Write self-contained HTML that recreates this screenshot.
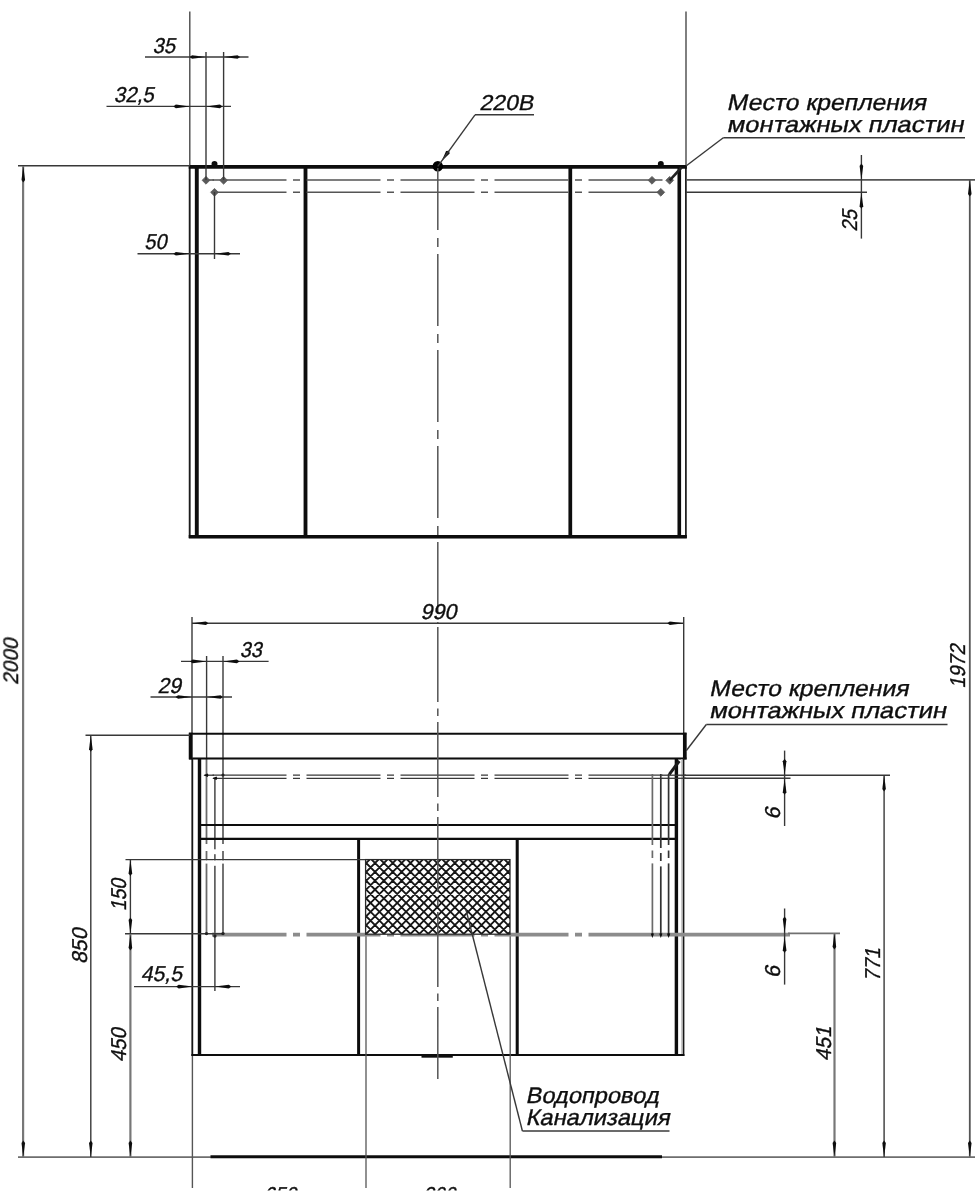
<!DOCTYPE html>
<html><head><meta charset="utf-8"><title>drawing</title>
<style>
html,body{margin:0;padding:0;background:#fff;}
svg{display:block}
text{font-family:"Liberation Sans",sans-serif;fill:#0d0d0d;stroke:#0d0d0d;stroke-width:0.35px;}
</style></head><body>
<svg width="980" height="1200" viewBox="0 0 980 1200">
<defs>
<filter id="soft" x="0" y="0" width="980" height="1200" filterUnits="userSpaceOnUse"><feGaussianBlur stdDeviation="0.45"/></filter>
<pattern id="hatch" patternUnits="userSpaceOnUse" width="8.87" height="8.87" x="370.6" y="858.6">
<rect width="8.87" height="8.87" fill="#fff"/>
<path d="M-1,-1 L9.87,9.87 M-1,7.87 L1,9.87 M7.87,-1 L9.87,1 M-1,9.87 L9.87,-1 M-1,1 L1,-1 M7.87,9.87 L9.87,7.87" stroke="#1a1a1a" stroke-width="1.75" fill="none"/>
</pattern>
</defs>
<rect width="980" height="1200" fill="#fff"/>
<g filter="url(#soft)">
<line x1="189.8" y1="11.5" x2="189.8" y2="166" stroke="#4a4a4a" stroke-width="1.4" />
<line x1="189.7" y1="166" x2="189.7" y2="538" stroke="#1a1a1a" stroke-width="1.9" />
<line x1="686" y1="11.5" x2="686" y2="166" stroke="#4a4a4a" stroke-width="1.4" />
<line x1="685.9" y1="166" x2="685.9" y2="538" stroke="#1a1a1a" stroke-width="1.7" />
<line x1="188.8" y1="166.9" x2="686.8" y2="166.9" stroke="#0a0a0a" stroke-width="3.6" />
<line x1="188.8" y1="536.7" x2="686.8" y2="536.7" stroke="#0a0a0a" stroke-width="3.4" />
<line x1="196.8" y1="166" x2="196.8" y2="537" stroke="#0a0a0a" stroke-width="3.9" />
<line x1="305.5" y1="166" x2="305.5" y2="537" stroke="#0a0a0a" stroke-width="3.8" />
<line x1="570.3" y1="166" x2="570.3" y2="537" stroke="#0a0a0a" stroke-width="3.7" />
<line x1="679.3" y1="166" x2="679.3" y2="537" stroke="#0a0a0a" stroke-width="3.6" />
<line x1="18" y1="165.8" x2="190" y2="165.8" stroke="#383838" stroke-width="1.4" />
<path d="M212.5,180 H286.5 M293.0,180 H300.0 M306.5,180 H380.5 M387.0,180 H394.0 M400.5,180 H474.5 M481.0,180 H488.0 M494.5,180 H568.5 M575.0,180 H582.0 M588.5,180 H662.5 M669.0,180 H669.7" stroke="#555" stroke-width="1.6" fill="none"/>
<line x1="206" y1="180" x2="214" y2="180" stroke="#555" stroke-width="1.6" />
<path d="M214.5,192.3 H286.5 M293.0,192.3 H300.0 M306.5,192.3 H380.5 M387.0,192.3 H394.0 M400.5,192.3 H474.5 M481.0,192.3 H488.0 M494.5,192.3 H568.5 M575.0,192.3 H582.0 M588.5,192.3 H660.8" stroke="#555" stroke-width="1.6" fill="none"/>
<line x1="686" y1="179.9" x2="975" y2="179.9" stroke="#555" stroke-width="1.7" />
<line x1="686" y1="192.3" x2="867" y2="192.3" stroke="#383838" stroke-width="1.4" />
<polygon points="202.1,180.3 206,176.4 209.9,180.3 206,184.20000000000002" fill="#5a5a5a" stroke="#5a5a5a" stroke-width="0.8" stroke-linejoin="round"/>
<polygon points="219.7,180.3 223.6,176.4 227.5,180.3 223.6,184.20000000000002" fill="#5a5a5a" stroke="#5a5a5a" stroke-width="0.8" stroke-linejoin="round"/>
<polygon points="210.6,192.3 214.5,188.4 218.4,192.3 214.5,196.20000000000002" fill="#5a5a5a" stroke="#5a5a5a" stroke-width="0.8" stroke-linejoin="round"/>
<polygon points="648.1,180.3 652,176.4 655.9,180.3 652,184.20000000000002" fill="#5a5a5a" stroke="#5a5a5a" stroke-width="0.8" stroke-linejoin="round"/>
<polygon points="665.8000000000001,180.3 669.7,176.4 673.6,180.3 669.7,184.20000000000002" fill="#5a5a5a" stroke="#5a5a5a" stroke-width="0.8" stroke-linejoin="round"/>
<polygon points="656.9,192.3 660.8,188.4 664.6999999999999,192.3 660.8,196.20000000000002" fill="#5a5a5a" stroke="#5a5a5a" stroke-width="0.8" stroke-linejoin="round"/>
<path d="M211.6,165.2 V163.6 A2.9,2.6 0 0 1 217.4,163.6 V165.2 Z" fill="#0a0a0a"/>
<path d="M657.9,165.2 V163.6 A2.9,2.6 0 0 1 663.7,163.6 V165.2 Z" fill="#0a0a0a"/>
<line x1="206" y1="52" x2="206" y2="180" stroke="#383838" stroke-width="1.4" />
<line x1="223.6" y1="52" x2="223.6" y2="180" stroke="#383838" stroke-width="1.4" />
<line x1="214.5" y1="192" x2="214.5" y2="259" stroke="#383838" stroke-width="1.4" />
<line x1="145" y1="57" x2="248.5" y2="57" stroke="#383838" stroke-width="1.4" />
<polygon points="206.0,57.0 192.1,58.8 189.5,57.0 192.1,55.2" fill="#111"/>
<polygon points="223.6,57.0 237.5,55.2 240.1,57.0 237.5,58.8" fill="#111"/>
<line x1="106.5" y1="106.4" x2="231" y2="106.4" stroke="#383838" stroke-width="1.4" />
<polygon points="189.8,106.4 175.9,108.2 173.3,106.4 175.9,104.6" fill="#111"/>
<polygon points="206.0,106.4 219.9,104.6 222.5,106.4 219.9,108.2" fill="#111"/>
<line x1="137.5" y1="253.7" x2="240" y2="253.7" stroke="#383838" stroke-width="1.4" />
<polygon points="189.8,253.7 175.9,255.5 173.3,253.7 175.9,251.9" fill="#111"/>
<polygon points="214.5,253.7 228.4,251.9 231.0,253.7 228.4,255.5" fill="#111"/>
<circle cx="437.8" cy="166.3" r="5.2" fill="#000"/>
<line x1="475" y1="114.8" x2="534" y2="114.8" stroke="#383838" stroke-width="1.4" />
<polygon points="441.5,161.2 446.1,151.1 449.1,150.7 449.7,153.6" fill="#111"/>
<line x1="686" y1="166" x2="723.3" y2="137.8" stroke="#383838" stroke-width="1.4" />
<line x1="723.3" y1="137.8" x2="965" y2="137.8" stroke="#383838" stroke-width="1.4" />
<line x1="669.7" y1="180.3" x2="681.5" y2="167.5" stroke="#222" stroke-width="2.6" />
<line x1="861.4" y1="155" x2="861.4" y2="238.6" stroke="#383838" stroke-width="1.4" />
<polygon points="861.4,180.0 859.6,166.1 861.4,163.5 863.2,166.1" fill="#111"/>
<polygon points="861.4,192.3 863.2,206.2 861.4,208.8 859.6,206.2" fill="#111"/>
<line x1="969.8" y1="180" x2="969.8" y2="1157" stroke="#555" stroke-width="1.8" />
<polygon points="969.8,180.0 971.6,193.9 969.8,196.5 968.0,193.9" fill="#111"/>
<polygon points="969.8,1157.0 968.0,1143.1 969.8,1140.5 971.6,1143.1" fill="#111"/>
<line x1="23.1" y1="166" x2="23.1" y2="1157" stroke="#777" stroke-width="2.2" />
<polygon points="23.3,166.0 25.1,179.9 23.3,182.5 21.5,179.9" fill="#111"/>
<polygon points="23.3,1157.0 21.5,1143.1 23.3,1140.5 25.1,1143.1" fill="#111"/>
<line x1="18" y1="1157.1" x2="975" y2="1157.1" stroke="#6e6e6e" stroke-width="1.9" />
<line x1="210.5" y1="1156.8" x2="662" y2="1156.8" stroke="#111" stroke-width="3" />
<line x1="192" y1="623.2" x2="683.7" y2="623.2" stroke="#383838" stroke-width="1.4" />
<line x1="192" y1="617" x2="192" y2="734" stroke="#383838" stroke-width="1.4" />
<line x1="683.7" y1="617" x2="683.7" y2="734" stroke="#383838" stroke-width="1.4" />
<polygon points="192.0,623.2 205.9,621.4 208.5,623.2 205.9,625.0" fill="#111"/>
<polygon points="683.7,623.2 669.8,625.0 667.2,623.2 669.8,621.4" fill="#111"/>
<line x1="181" y1="661.4" x2="268.6" y2="661.4" stroke="#383838" stroke-width="1.4" />
<polygon points="206.6,661.4 192.7,663.2 190.1,661.4 192.7,659.6" fill="#111"/>
<polygon points="223.0,661.4 236.9,659.6 239.5,661.4 236.9,663.2" fill="#111"/>
<line x1="150.5" y1="697" x2="232" y2="697" stroke="#383838" stroke-width="1.4" />
<polygon points="192.0,697.0 178.1,698.8 175.5,697.0 178.1,695.2" fill="#111"/>
<polygon points="206.6,697.0 220.5,695.2 223.1,697.0 220.5,698.8" fill="#111"/>
<line x1="206.6" y1="656" x2="206.6" y2="759" stroke="#383838" stroke-width="1.4" />
<line x1="206.5" y1="759" x2="206.5" y2="934" stroke="#6a6a6a" stroke-width="1.8" />
<line x1="223" y1="656" x2="223" y2="934" stroke="#383838" stroke-width="1.4" />
<line x1="214.9" y1="778" x2="214.9" y2="991" stroke="#383838" stroke-width="1.4" />
<line x1="189" y1="733.7" x2="686.5" y2="733.7" stroke="#0a0a0a" stroke-width="2.1" />
<line x1="189" y1="758.4" x2="686.5" y2="758.4" stroke="#0a0a0a" stroke-width="2" />
<line x1="190.7" y1="732.7" x2="190.7" y2="759.4" stroke="#0a0a0a" stroke-width="3.9" />
<line x1="684.8" y1="732.7" x2="684.8" y2="759.4" stroke="#0a0a0a" stroke-width="3.7" />
<line x1="192.3" y1="758" x2="192.3" y2="1056" stroke="#151515" stroke-width="1.8" />
<line x1="192.4" y1="1056" x2="192.4" y2="1188" stroke="#555" stroke-width="1.4" />
<line x1="199.5" y1="758" x2="199.5" y2="1056" stroke="#0a0a0a" stroke-width="3.4" />
<line x1="676.4" y1="758" x2="676.4" y2="1056" stroke="#0a0a0a" stroke-width="3.4" />
<line x1="681.9" y1="759" x2="681.9" y2="1055" stroke="#bbb" stroke-width="1.4" />
<line x1="683.6" y1="758" x2="683.6" y2="1056" stroke="#151515" stroke-width="1.6" />
<line x1="191.4" y1="1055.1" x2="684.4" y2="1055.1" stroke="#0a0a0a" stroke-width="2" />
<line x1="198.5" y1="825" x2="678" y2="825" stroke="#111" stroke-width="2.2" />
<line x1="198.5" y1="838.9" x2="678" y2="838.9" stroke="#111" stroke-width="2.2" />
<line x1="358.6" y1="838" x2="358.6" y2="1056" stroke="#0a0a0a" stroke-width="3.0" />
<line x1="517.2" y1="838" x2="517.2" y2="1056" stroke="#0a0a0a" stroke-width="3.0" />
<line x1="366" y1="934" x2="366" y2="1188" stroke="#555" stroke-width="1.3" />
<line x1="510.2" y1="934" x2="510.2" y2="1188" stroke="#555" stroke-width="1.3" />
<line x1="421.5" y1="1056.4" x2="452.8" y2="1056.4" stroke="#0a0a0a" stroke-width="2.5" />
<path d="M212.5,775.2 H286.5 M293.0,775.2 H300.0 M306.5,775.2 H380.5 M387.0,775.2 H394.0 M400.5,775.2 H474.5 M481.0,775.2 H488.0 M494.5,775.2 H568.5 M575.0,775.2 H582.0 M588.5,775.2 H662.5" stroke="#383838" stroke-width="1.3" fill="none"/>
<line x1="204.4" y1="775.2" x2="214" y2="775.2" stroke="#383838" stroke-width="1.3" />
<line x1="662" y1="775.2" x2="686" y2="775.2" stroke="#383838" stroke-width="1.3" />
<path d="M213.0,778.3 H286.5 M293.0,778.3 H300.0 M306.5,778.3 H380.5 M387.0,778.3 H394.0 M400.5,778.3 H474.5 M481.0,778.3 H488.0 M494.5,778.3 H568.5 M575.0,778.3 H582.0 M588.5,778.3 H662.5" stroke="#383838" stroke-width="1.3" fill="none"/>
<line x1="662" y1="778.3" x2="686" y2="778.3" stroke="#383838" stroke-width="1.3" />
<polygon points="203.5,775.2 207.7,773.5 208.5,775.2 207.7,776.9" fill="#111"/>
<polygon points="212.3,778.3 216.5,776.6 217.3,778.3 216.5,780.0" fill="#111"/>
<circle cx="223" cy="775" r="1.6" fill="#222"/>
<line x1="684" y1="775.2" x2="890" y2="775.2" stroke="#383838" stroke-width="1.4" />
<line x1="684" y1="778.3" x2="790.5" y2="778.3" stroke="#383838" stroke-width="1.4" />
<path d="M212.5,934.7 H286.5 M293.0,934.7 H300.0 M306.5,934.7 H380.5 M387.0,934.7 H394.0 M400.5,934.7 H474.5 M481.0,934.7 H488.0 M494.5,934.7 H568.5 M575.0,934.7 H582.0 M588.5,934.7 H662.5" stroke="#8c8c8c" stroke-width="3.7" fill="none"/>
<line x1="212" y1="934.7" x2="214" y2="934.7" stroke="#8c8c8c" stroke-width="3.7" />
<line x1="662" y1="934.7" x2="790" y2="934.7" stroke="#8c8c8c" stroke-width="3.7" />
<line x1="788" y1="933.4" x2="840" y2="933.4" stroke="#707070" stroke-width="1.8" />
<line x1="125" y1="933.8" x2="224" y2="933.8" stroke="#383838" stroke-width="1.4" />
<circle cx="206.5" cy="933.6" r="1.7" fill="#222"/>
<circle cx="214.9" cy="936" r="1.7" fill="#222"/>
<circle cx="223" cy="933.6" r="1.7" fill="#222"/>
<line x1="125.5" y1="859.6" x2="366" y2="859.6" stroke="#383838" stroke-width="1.4" />
<clipPath id="hc"><rect x="365.6" y="859.6" width="144.39999999999998" height="74.60000000000002"/></clipPath>
<rect x="365.6" y="859.6" width="144.39999999999998" height="74.60000000000002" fill="#fff"/>
<path clip-path="url(#hc)" d="M291.77,859.6 L366.37,934.2 M300.64,859.6 L375.24,934.2 M309.51,859.6 L384.11,934.2 M318.38,859.6 L392.98,934.2 M327.25,859.6 L401.85,934.2 M336.12,859.6 L410.72,934.2 M344.99,859.6 L419.59,934.2 M353.86,859.6 L428.46,934.2 M362.73,859.6 L437.33,934.2 M371.60,859.6 L446.20,934.2 M380.47,859.6 L455.07,934.2 M389.34,859.6 L463.94,934.2 M398.21,859.6 L472.81,934.2 M407.08,859.6 L481.68,934.2 M415.95,859.6 L490.55,934.2 M424.82,859.6 L499.42,934.2 M433.69,859.6 L508.29,934.2 M442.56,859.6 L517.16,934.2 M451.43,859.6 L526.03,934.2 M460.30,859.6 L534.90,934.2 M469.17,859.6 L543.77,934.2 M478.04,859.6 L552.64,934.2 M486.91,859.6 L561.51,934.2 M495.78,859.6 L570.38,934.2 M504.65,859.6 L579.25,934.2 M369.60,859.6 L295.00,934.2 M378.47,859.6 L303.87,934.2 M387.34,859.6 L312.74,934.2 M396.21,859.6 L321.61,934.2 M405.08,859.6 L330.48,934.2 M413.95,859.6 L339.35,934.2 M422.82,859.6 L348.22,934.2 M431.69,859.6 L357.09,934.2 M440.56,859.6 L365.96,934.2 M449.43,859.6 L374.83,934.2 M458.30,859.6 L383.70,934.2 M467.17,859.6 L392.57,934.2 M476.04,859.6 L401.44,934.2 M484.91,859.6 L410.31,934.2 M493.78,859.6 L419.18,934.2 M502.65,859.6 L428.05,934.2 M511.52,859.6 L436.92,934.2 M520.39,859.6 L445.79,934.2 M529.26,859.6 L454.66,934.2 M538.13,859.6 L463.53,934.2 M547.00,859.6 L472.40,934.2 M555.87,859.6 L481.27,934.2 M564.74,859.6 L490.14,934.2 M573.61,859.6 L499.01,934.2 M582.48,859.6 L507.88,934.2" stroke="#161616" stroke-width="1.85" fill="none"/>
<rect x="365.6" y="859.6" width="144.39999999999998" height="74.60000000000002" fill="none" stroke="#2a2a2a" stroke-width="1.3"/>
<line x1="437.8" y1="166.3" x2="475" y2="114.8" stroke="#383838" stroke-width="1.4" />
<line x1="437.8" y1="168" x2="437.8" y2="623" stroke="#555" stroke-width="1.5" stroke-dasharray="72 8 9 7" stroke-dashoffset="10"/>
<line x1="437.8" y1="627" x2="437.8" y2="1079" stroke="#555" stroke-width="1.5" stroke-dasharray="75 6.5 7.5 6"/>
<line x1="652.4" y1="774" x2="652.4" y2="936" stroke="#6a6a6a" stroke-width="1.7" />
<polygon points="652.4,938.0 650.8,933.8 652.4,933.0 654.0,933.8" fill="#111"/>
<line x1="660.8" y1="774" x2="660.8" y2="936" stroke="#333" stroke-width="1.7" />
<polygon points="660.8,938.0 659.2,933.8 660.8,933.0 662.4,933.8" fill="#111"/>
<line x1="668.6" y1="774" x2="668.6" y2="936" stroke="#333" stroke-width="1.7" />
<polygon points="668.6,938.0 667.0,933.8 668.6,933.0 670.2,933.8" fill="#111"/>
<rect x="205.0" y="844" width="3.2" height="7" fill="#fff"/>
<rect x="205.0" y="860.5" width="3.2" height="3.1000000000000227" fill="#fff"/>
<rect x="221.4" y="844" width="3.2" height="7" fill="#fff"/>
<rect x="221.4" y="860.5" width="3.2" height="3.1000000000000227" fill="#fff"/>
<rect x="213.3" y="849.3" width="3.2" height="4.900000000000091" fill="#fff"/>
<rect x="213.3" y="860.5" width="3.2" height="5.2999999999999545" fill="#fff"/>
<rect x="650.8" y="845" width="3.2" height="5.5" fill="#fff"/>
<rect x="650.8" y="858" width="3.2" height="5.399999999999977" fill="#fff"/>
<rect x="667.0" y="845" width="3.2" height="5.5" fill="#fff"/>
<rect x="667.0" y="858" width="3.2" height="5.399999999999977" fill="#fff"/>
<rect x="659.1999999999999" y="848" width="3.2" height="5" fill="#fff"/>
<rect x="659.1999999999999" y="861" width="3.2" height="5.399999999999977" fill="#fff"/>
<line x1="706.3" y1="724.5" x2="686.2" y2="750.8" stroke="#383838" stroke-width="1.4" />
<line x1="706.3" y1="724.5" x2="947.5" y2="724.5" stroke="#383838" stroke-width="1.4" />
<line x1="679.3" y1="761" x2="669.3" y2="774.3" stroke="#1a1a1a" stroke-width="3" />
<line x1="85.5" y1="735.3" x2="190" y2="735.3" stroke="#383838" stroke-width="1.4" />
<line x1="90.8" y1="735" x2="90.8" y2="1157" stroke="#383838" stroke-width="1.4" />
<polygon points="90.8,735.3 92.6,749.2 90.8,751.8 89.0,749.2" fill="#111"/>
<polygon points="90.8,1157.0 89.0,1143.1 90.8,1140.5 92.6,1143.1" fill="#111"/>
<line x1="130.4" y1="859.6" x2="130.4" y2="934" stroke="#383838" stroke-width="1.4" />
<line x1="130.4" y1="934" x2="130.4" y2="1157" stroke="#777" stroke-width="2.2" />
<polygon points="130.4,859.6 132.2,873.5 130.4,876.1 128.6,873.5" fill="#111"/>
<polygon points="130.4,934.0 128.6,920.1 130.4,917.5 132.2,920.1" fill="#111"/>
<polygon points="130.4,934.0 132.2,947.9 130.4,950.5 128.6,947.9" fill="#111"/>
<polygon points="130.4,1157.0 128.6,1143.1 130.4,1140.5 132.2,1143.1" fill="#111"/>
<line x1="134" y1="986.6" x2="240" y2="986.6" stroke="#383838" stroke-width="1.4" />
<polygon points="192.6,986.6 178.7,988.4 176.1,986.6 178.7,984.8" fill="#111"/>
<polygon points="214.9,986.6 228.8,984.8 231.4,986.6 228.8,988.4" fill="#111"/>
<line x1="784.6" y1="750.6" x2="784.6" y2="826" stroke="#383838" stroke-width="1.4" />
<polygon points="784.6,775.2 782.8,761.3 784.6,758.7 786.4,761.3" fill="#111"/>
<polygon points="784.6,778.3 786.4,792.2 784.6,794.8 782.8,792.2" fill="#111"/>
<line x1="784.6" y1="908.5" x2="784.6" y2="984.6" stroke="#383838" stroke-width="1.4" />
<polygon points="784.6,933.0 782.8,919.1 784.6,916.5 786.4,919.1" fill="#111"/>
<polygon points="784.6,936.4 786.4,950.3 784.6,952.9 782.8,950.3" fill="#111"/>
<line x1="834.5" y1="933" x2="834.5" y2="1157" stroke="#777" stroke-width="2.2" />
<polygon points="834.4,933.0 836.2,946.9 834.4,949.5 832.6,946.9" fill="#111"/>
<polygon points="834.4,1157.0 832.6,1143.1 834.4,1140.5 836.2,1143.1" fill="#111"/>
<line x1="884.1" y1="775" x2="884.1" y2="1157" stroke="#383838" stroke-width="1.4" />
<polygon points="884.1,775.0 885.9,788.9 884.1,791.5 882.3,788.9" fill="#111"/>
<polygon points="884.1,1157.0 882.3,1143.1 884.1,1140.5 885.9,1143.1" fill="#111"/>
<line x1="465.8" y1="909" x2="522.4" y2="1131" stroke="#383838" stroke-width="1.4" />
<line x1="522.4" y1="1131" x2="669.5" y2="1131" stroke="#383838" stroke-width="1.4" />
<text transform="translate(152.6 52.7) skewX(-12)" font-size="21.5" textLength="22.5" lengthAdjust="spacingAndGlyphs">35</text>
<text transform="translate(113.8 102) skewX(-12)" font-size="21.5" textLength="40" lengthAdjust="spacingAndGlyphs">32,5</text>
<text transform="translate(144.3 249) skewX(-12)" font-size="21.5" textLength="22.3" lengthAdjust="spacingAndGlyphs">50</text>
<text transform="translate(479.2 109.7) skewX(-12)" font-size="21.5" textLength="54" lengthAdjust="spacingAndGlyphs">220B</text>
<text transform="translate(420.6 619) skewX(-12)" font-size="21.5" textLength="36" lengthAdjust="spacingAndGlyphs">990</text>
<text transform="translate(239.7 657) skewX(-12)" font-size="21.5" textLength="22" lengthAdjust="spacingAndGlyphs">33</text>
<text transform="translate(157.6 692.9) skewX(-12)" font-size="21.5" textLength="23.5" lengthAdjust="spacingAndGlyphs">29</text>
<text transform="translate(140.8 981.3) skewX(-12)" font-size="21.5" textLength="41.2" lengthAdjust="spacingAndGlyphs">45,5</text>
<text transform="translate(726.5 109.8) skewX(-12)" font-size="22.5" textLength="199.5" lengthAdjust="spacingAndGlyphs">Место крепления</text>
<text transform="translate(726.5 132.1) skewX(-12)" font-size="22.5" textLength="237" lengthAdjust="spacingAndGlyphs">монтажных пластин</text>
<text transform="translate(709 696.4) skewX(-12)" font-size="22.5" textLength="199.5" lengthAdjust="spacingAndGlyphs">Место крепления</text>
<text transform="translate(709 718.4) skewX(-12)" font-size="22.5" textLength="237" lengthAdjust="spacingAndGlyphs">монтажных пластин</text>
<text transform="translate(525.5 1103) skewX(-12)" font-size="22.5" textLength="133" lengthAdjust="spacingAndGlyphs">Водопровод</text>
<text transform="translate(525.5 1125) skewX(-12)" font-size="22.5" textLength="144" lengthAdjust="spacingAndGlyphs">Канализация</text>
<text transform="translate(18.5 685) rotate(-90) skewX(-12)" font-size="21.5" textLength="46.3" lengthAdjust="spacingAndGlyphs">2000</text>
<text transform="translate(86.8 964) rotate(-90) skewX(-12)" font-size="21.5" textLength="35.5" lengthAdjust="spacingAndGlyphs">850</text>
<text transform="translate(126 911) rotate(-90) skewX(-12)" font-size="21.5" textLength="32" lengthAdjust="spacingAndGlyphs">150</text>
<text transform="translate(126.1 1062) rotate(-90) skewX(-12)" font-size="21.5" textLength="33.8" lengthAdjust="spacingAndGlyphs">450</text>
<text transform="translate(856.8 231.4) rotate(-90) skewX(-12)" font-size="21.5" textLength="21.5" lengthAdjust="spacingAndGlyphs">25</text>
<text transform="translate(965.3 688.5) rotate(-90) skewX(-12)" font-size="21.5" textLength="44" lengthAdjust="spacingAndGlyphs">1972</text>
<text transform="translate(780.3 819.5) rotate(-90) skewX(-12)" font-size="21.5">6</text>
<text transform="translate(780.3 978) rotate(-90) skewX(-12)" font-size="21.5">6</text>
<text transform="translate(880 981.5) rotate(-90) skewX(-12)" font-size="21.5" textLength="33.5" lengthAdjust="spacingAndGlyphs">771</text>
<text transform="translate(830.5 1061) rotate(-90) skewX(-12)" font-size="21.5" textLength="34.5" lengthAdjust="spacingAndGlyphs">451</text>
<text transform="translate(263.8 1201.5) skewX(-12)" font-size="21.5" textLength="32.5" lengthAdjust="spacingAndGlyphs">650</text>
<text transform="translate(423.3 1201.5) skewX(-12)" font-size="21.5" textLength="32" lengthAdjust="spacingAndGlyphs">300</text>
<rect x="0" y="1190.5" width="980" height="10" fill="#fff"/>
</g>
</svg>
</body></html>
